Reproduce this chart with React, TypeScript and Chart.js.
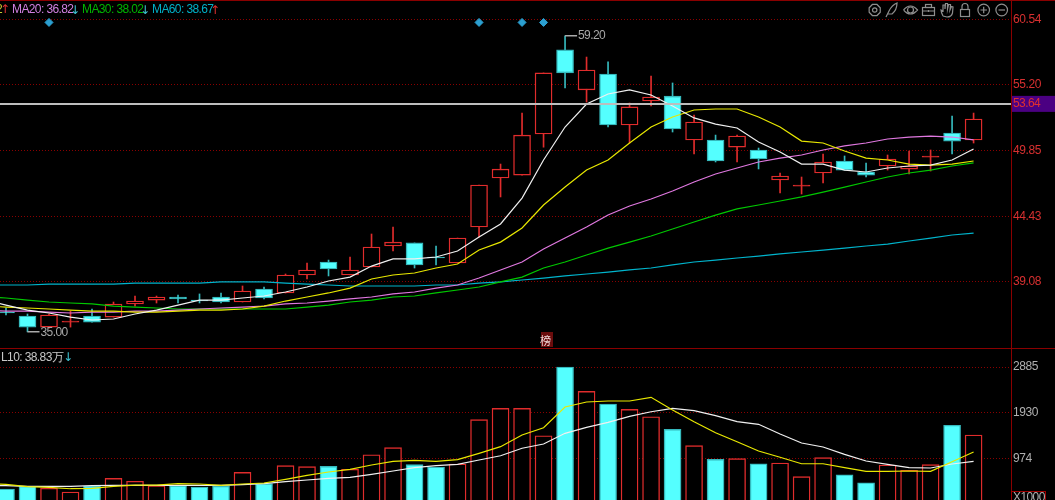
import React, { useEffect, useRef } from "react";
import { Chart, registerables } from "chart.js";

Chart.register(...registerables);

const opens = [36.62,36.30,35.39,35.80,36.30,36.21,37.28,37.60,37.85,37.60,37.85,37.44,38.50,38.18,39.65,40.71,39.65,40.30,42.02,42.27,41.12,40.63,43.57,47.58,47.82,51.18,58.05,54.78,56.08,51.91,53.88,54.28,50.69,50.69,50.11,49.87,47.42,46.91,47.99,48.97,48.07,48.56,48.31,49.29,51.26,50.69];
const closes = [36.54,35.39,36.38,35.89,35.80,37.28,37.52,37.85,37.69,37.52,37.44,38.34,37.77,39.65,40.06,40.14,40.06,41.94,42.34,40.47,41.04,42.67,47.01,48.31,51.09,56.17,56.17,56.41,51.91,53.39,54.20,51.59,52.16,48.97,51.01,49.13,47.74,46.93,48.89,48.23,47.82,49.13,48.56,49.31,50.60,52.40];
const highs = [36.95,36.46,36.46,36.70,36.87,37.44,37.93,37.93,38.01,38.10,38.18,38.75,38.67,39.73,40.63,40.87,41.12,43.00,43.57,42.27,42.02,42.67,47.01,48.72,52.89,56.17,59.20,57.47,57.07,53.71,55.92,55.35,52.73,51.09,51.09,50.03,47.99,47.66,49.54,49.38,48.81,49.46,49.79,49.87,52.65,52.89];
const lows = [36.38,35.00,35.31,35.39,35.80,36.21,37.11,37.36,37.36,37.36,37.36,37.44,37.69,38.18,39.32,39.57,39.65,40.30,41.61,40.22,40.47,40.63,42.75,46.03,47.82,50.10,54.94,53.79,51.75,50.44,53.47,51.34,49.54,48.89,48.89,48.32,46.35,46.27,47.17,48.23,47.66,48.23,47.91,48.15,49.54,50.44];

// The line series start one session before the first visible candle.
const ma5 = [37.60,37.19,36.78,36.54,36.21,35.97,36.05,36.46,36.78,37.19,37.60,37.60,37.77,37.93,38.26,38.67,39.16,39.48,40.38,40.96,40.96,41.12,41.61,42.75,43.82,45.94,49.05,51.75,53.63,54.45,54.78,54.37,53.47,52.49,51.99,51.67,50.52,49.70,48.72,48.72,48.23,48.07,48.40,48.56,48.64,49.05,49.95];
const ma10 = [37.11,37.03,36.95,36.87,36.78,36.70,36.70,36.62,36.62,36.70,36.78,36.78,36.87,37.11,37.52,37.85,38.18,38.58,39.32,39.65,39.81,40.22,40.55,41.69,42.34,43.49,45.37,46.84,48.23,49.05,50.44,51.75,52.57,53.14,53.22,53.22,52.57,51.75,50.60,50.44,49.79,49.21,49.05,48.72,48.64,48.72,48.97];
const ma20 = [36.78,36.70,36.70,36.62,36.54,36.62,36.62,36.70,36.70,36.78,36.87,36.95,37.03,37.11,37.28,37.36,37.52,37.69,37.85,38.10,38.26,38.58,38.83,39.40,40.06,40.71,41.77,42.67,43.57,44.55,45.29,45.86,46.52,47.25,47.91,48.40,48.89,49.21,49.46,49.87,50.20,50.44,50.77,50.93,51.01,50.93,50.69];
const ma30 = [37.89,37.77,37.60,37.44,37.36,37.28,37.11,37.03,36.95,36.87,36.87,36.87,36.87,36.87,36.87,37.03,37.19,37.44,37.60,37.85,37.93,38.18,38.42,38.67,39.08,39.48,40.22,40.71,41.28,41.85,42.34,42.84,43.41,43.98,44.55,45.05,45.37,45.70,46.03,46.43,46.84,47.25,47.66,47.99,48.23,48.56,48.81];
const ma60 = [38.83,38.83,38.83,38.91,38.91,38.91,38.91,38.99,38.99,38.99,38.99,39.08,39.08,39.08,38.99,38.91,38.83,38.75,38.75,38.75,38.75,38.83,38.83,38.99,39.08,39.24,39.40,39.57,39.73,39.89,40.06,40.22,40.47,40.71,40.87,41.04,41.20,41.37,41.53,41.69,41.85,42.02,42.18,42.43,42.67,42.92,43.08];

const volumes = [342,399,357,280,399,565,503,411,411,384,399,690,453,828,807,815,753,1057,1203,849,801,863,1787,2024,2024,1453,2885,2378,2114,2003,1849,1586,1245,961,974,869,884,599,995,640,473,842,732,849,1670,1468];
const volFast = [450,440,390,377,348,357,399,425,425,453,446,419,446,467,544,628,696,753,842,919,940,919,953,1086,1224,1468,1620,2051,2155,2176,2176,2253,1989,1745,1516,1328,1134,1003,869,869,786,711,711,717,711,911,1113];
const volSlow = [411,411,399,399,399,411,419,419,419,419,419,419,432,453,494,530,565,586,649,717,786,828,857,947,1036,1191,1280,1503,1628,1732,1857,1953,2024,1974,1870,1745,1691,1488,1301,1217,1065,926,857,786,780,863,920];

const priceTicks = [60.54, 55.2, 49.85, 44.43, 39.08];
const volumeTicks = [2885, 1930, 974];
const signalIndexes = [2, 22, 24, 25];
const signalLevel = 60.3;
const lastPrice = 53.64;
const highIndex = 26;
const highValue = 59.2;
const lowIndex = 1;
const lowValue = 35.0;

const RED = "#e02c2c";
const CYAN = "#54ffff";
const CYAN_EDGE = "#35b9bd";
const GRID = "#8a0000";
const X_MIN = -0.279;
const X_MAX = 46.74;

const fromLead = (arr: number[]) => arr.map((v, i) => ({ x: i - 1, y: v }));
const isUp = (i: number) => closes[i] >= opens[i];
const isFlat = (i: number) => Math.abs(closes[i] - opens[i]) < 0.1;

const fixScale = (s: any) => {
  s.width = 44;
  s.paddingTop = 0;
  s.paddingBottom = 0;
  s.paddingLeft = 0;
  s.paddingRight = 0;
};

const line = (data: number[], color: string, yAxisID: string, order: number) => ({
  type: "line" as const,
  data: fromLead(data),
  borderColor: color,
  borderWidth: 1.2,
  pointRadius: 0,
  tension: 0,
  fill: false,
  yAxisID,
  order,
});

function drawIcons(ctx: CanvasRenderingContext2D) {
  ctx.save();
  ctx.strokeStyle = "#8e8e8e";
  ctx.lineWidth = 1.2;
  const y = 10;
  // gear
  ctx.beginPath();
  for (let k = 0; k < 8; k++) {
    const a = (k * Math.PI) / 4 + Math.PI / 8;
    ctx.lineTo(874.7 + Math.cos(a) * 6, y + Math.sin(a) * 6);
  }
  ctx.closePath();
  ctx.stroke();
  ctx.beginPath(); ctx.arc(874.7, y, 2.2, 0, Math.PI * 2); ctx.stroke();
  // feather
  ctx.beginPath(); ctx.moveTo(886, 17); ctx.lineTo(889, 11); ctx.quadraticCurveTo(892, 5, 897, 3); ctx.quadraticCurveTo(897, 10, 892, 14); ctx.lineTo(888, 14); ctx.stroke();
  // eye
  ctx.beginPath(); ctx.moveTo(903.5, y); ctx.quadraticCurveTo(910.5, 2, 917.5, y); ctx.quadraticCurveTo(910.5, 18, 903.5, y); ctx.stroke();
  ctx.beginPath(); ctx.arc(910.5, y, 3, 0, Math.PI * 2); ctx.stroke();
  // briefcase
  ctx.strokeRect(922.5, 7.5, 12, 8);
  ctx.strokeRect(925.5, 4.5, 6, 3);
  ctx.beginPath(); ctx.moveTo(922.5, 11); ctx.lineTo(934.5, 11); ctx.moveTo(928.5, 10); ctx.lineTo(928.5, 12); ctx.stroke();
  // hand
  ctx.beginPath();
  ctx.moveTo(943, 16); ctx.quadraticCurveTo(941, 12, 941, 10); ctx.lineTo(943, 11); ctx.lineTo(943, 5); ctx.lineTo(945, 5); ctx.lineTo(945, 9);
  ctx.lineTo(945.5, 3.5); ctx.lineTo(947.5, 3.5); ctx.lineTo(947.5, 9); ctx.lineTo(948.5, 4.5); ctx.lineTo(950.5, 4.5); ctx.lineTo(950, 10);
  ctx.lineTo(951.5, 6.5); ctx.lineTo(953, 7); ctx.lineTo(952.5, 13);
  ctx.quadraticCurveTo(951.5, 17, 947, 17); ctx.lineTo(943, 16);
  ctx.stroke();
  // lock
  ctx.strokeRect(960.5, 9.5, 9, 7);
  ctx.beginPath(); ctx.moveTo(962, 9.5); ctx.lineTo(962, 6.5); ctx.arc(965, 6.5, 3, Math.PI, 0); ctx.lineTo(968, 9.5); ctx.stroke();
  // plus and minus
  ctx.beginPath(); ctx.arc(983.7, y, 5.8, 0, Math.PI * 2); ctx.stroke();
  ctx.beginPath(); ctx.moveTo(980.5, y); ctx.lineTo(987, y); ctx.moveTo(983.7, y - 3.3); ctx.lineTo(983.7, y + 3.3); ctx.stroke();
  ctx.beginPath(); ctx.arc(1001.7, y, 5.8, 0, Math.PI * 2); ctx.stroke();
  ctx.beginPath(); ctx.moveTo(998.5, y); ctx.lineTo(1005, y); ctx.stroke();
  ctx.restore();
}

const overlay = {
  id: "overlay",
  beforeDraw(chart: any) {
    chart.ctx.letterSpacing = "-0.4px";
  },
  afterDraw(chart: any) {
    const { ctx, scales } = chart;
    const text = (s: string, x: number, y: number, color: string) => {
      ctx.fillStyle = color;
      ctx.fillText(s, x, y);
    };
    const arrow = (s: string, x: number, y: number, color: string) => {
      ctx.save();
      ctx.letterSpacing = "0px";
      ctx.font = '12px "DejaVu Sans"';
      text(s, x, y, color);
      ctx.restore();
    };
    ctx.save();
    ctx.font = '12px "Liberation Sans"';
    ctx.letterSpacing = "-0.6px";
    ctx.textBaseline = "middle";
    ctx.textAlign = "left";

    // frame
    ctx.fillStyle = "#8a0000";
    ctx.fillRect(0, 0, 1055, 1);
    ctx.fillRect(0, 348, 1055, 1);

    // legend lines
    text("2", -4, 10, "#c8c832");
    arrow("↑", 0, 10, "#e03030");
    text("MA20: 36.82", 12, 10, "#d080e0");
    arrow("↓", 70, 11, "#40c8d8");
    text("MA30: 38.02", 82, 10, "#00b400");
    arrow("↓", 140, 11, "#40c8d8");
    text("MA60: 38.67", 152, 10, "#00b0c8");
    arrow("↑", 210, 11, "#e03030");
    text("L10: 38.83万", 1, 358, "#c8c8c8");
    arrow("↓", 63, 358, "#40c8d8");

    // last price box
    const yLast = scales.y.getPixelForValue(lastPrice);
    ctx.fillStyle = "#4b0082";
    ctx.fillRect(1012, yLast - 8, 43, 16);
    text(lastPrice.toFixed(2), 1013, yLast, "#e03030");

    // high and low notes
    const hx = scales.x.getPixelForValue(highIndex);
    const hy = scales.y.getPixelForValue(highValue);
    ctx.fillStyle = "#aaaaaa";
    ctx.fillRect(hx, Math.round(hy) - 1, 12, 1.5);
    text(highValue.toFixed(2), hx + 13, hy, "#a8a8a8");
    const lx = scales.x.getPixelForValue(lowIndex);
    const ly = scales.y.getPixelForValue(lowValue);
    ctx.fillStyle = "#aaaaaa";
    ctx.fillRect(lx, Math.round(ly) - 1, 12, 1.5);
    text(lowValue.toFixed(2), lx + 13, ly + 1, "#a8a8a8");

    // board mark
    ctx.fillStyle = "#6a0c0c";
    ctx.fillRect(541, 332, 12, 15);
    ctx.save();
    ctx.letterSpacing = "0px";
    ctx.font = '11px "Noto Sans CJK SC"';
    text("榜", 540, 341, "#f0d8d8");
    ctx.restore();

    // multiplier box
    ctx.strokeStyle = "#a00000";
    ctx.strokeRect(1011.5, 491.5, 34, 12);
    text("X1000", 1013, 498, "#b0b0b0");

    drawIcons(ctx);
    ctx.restore();
  },
};

export default function App() {
  const ref = useRef<HTMLCanvasElement>(null);
  useEffect(() => {
    document.body.style.margin = "0";
    document.body.style.background = "#000";
    const idx = opens.map((_, i) => i);
    const chart = new Chart(ref.current!, {
      type: "bar",
      plugins: [overlay],
      data: {
        datasets: [
          {
            data: idx.map((i) => ({ x: i, y: [lows[i], highs[i]] })),
            backgroundColor: idx.map((i) => (isUp(i) ? RED : CYAN_EDGE)),
            barThickness: 1,
            borderWidth: 0,
            grouped: false,
            yAxisID: "y",
            order: 20,
          },
          {
            data: idx.map((i) => ({ x: i, y: [opens[i], closes[i]] })),
            backgroundColor: idx.map((i) => (isUp(i) ? (isFlat(i) ? RED : "#000") : CYAN)),
            borderColor: idx.map((i) => (isUp(i) ? RED : CYAN_EDGE)),
            borderWidth: 1.4,
            borderSkipped: false,
            barThickness: 17,
            minBarLength: 1,
            grouped: false,
            yAxisID: "y",
            order: 19,
          },
          {
            data: idx.map((i) => ({ x: i, y: volumes[i] })),
            backgroundColor: idx.map((i) => (isUp(i) ? "#000" : CYAN)),
            borderColor: idx.map((i) => (isUp(i) ? RED : CYAN_EDGE)),
            borderWidth: 1.4,
            borderSkipped: false,
            barThickness: 17,
            grouped: false,
            yAxisID: "v",
            order: 18,
          },
          line(ma60, "#00b4cc", "y", 10),
          line(ma30, "#00c800", "y", 9),
          line(ma20, "#e078e0", "y", 8),
          line(ma10, "#e8e800", "y", 7),
          line(ma5, "#f0f0f0", "y", 6),
          line(volSlow, "#f0f0f0", "v", 5),
          line(volFast, "#e8e800", "v", 4),
          {
            type: "line",
            data: [
              { x: X_MIN, y: lastPrice },
              { x: X_MAX, y: lastPrice },
            ],
            borderColor: "#bdbdbd",
            borderWidth: 2,
            pointRadius: 0,
            yAxisID: "y",
            order: 3,
          },
          {
            type: "line",
            data: signalIndexes.map((i) => ({ x: i, y: signalLevel })),
            showLine: false,
            pointStyle: "rectRot",
            pointRadius: 4,
            pointBackgroundColor: "#2b9fd0",
            pointBorderColor: "#2b9fd0",
            yAxisID: "y",
            order: 2,
          },
        ] as any,
      },
      options: {
        responsive: false,
        animation: false,
        devicePixelRatio: 1,
        layout: { padding: 0, autoPadding: false },
        plugins: { legend: { display: false }, tooltip: { enabled: false } },
        scales: {
          x: { type: "linear", display: false, min: X_MIN, max: X_MAX, offset: false, grid: { display: false } },
          y: {
            type: "linear",
            position: "right",
            stack: "panes",
            stackWeight: 348,
            min: 33.68,
            max: 62.134,
            afterBuildTicks: (s: any) => {
              s.ticks = priceTicks.map((value) => ({ value }));
            },
            afterFit: fixScale,
            grid: { color: GRID, drawTicks: false, lineWidth: 1 },
            border: { display: true, color: GRID, dash: [1, 2] },
            ticks: {
              color: "#d83030",
              autoSkip: false,
              padding: 2,
              font: { family: "Liberation Sans", size: 12 },
              callback: (v: any) => Number(v).toFixed(2),
            },
          },
          v: {
            type: "linear",
            position: "right",
            stack: "panes",
            stackWeight: 152,
            min: 113,
            max: 3281,
            afterBuildTicks: (s: any) => {
              s.ticks = volumeTicks.map((value) => ({ value }));
            },
            afterFit: fixScale,
            grid: { color: GRID, drawTicks: false, lineWidth: 1 },
            border: { display: true, color: GRID, dash: [1, 2] },
            ticks: {
              color: "#b0b0b0",
              autoSkip: false,
              padding: 2,
              font: { family: "Liberation Sans", size: 12 },
              callback: (v: any) => String(v),
            },
          },
        },
      } as any,
    });
    return () => chart.destroy();
  }, []);
  return <canvas ref={ref} width={1055} height={500} style={{ display: "block", background: "#000" }} />;
}
